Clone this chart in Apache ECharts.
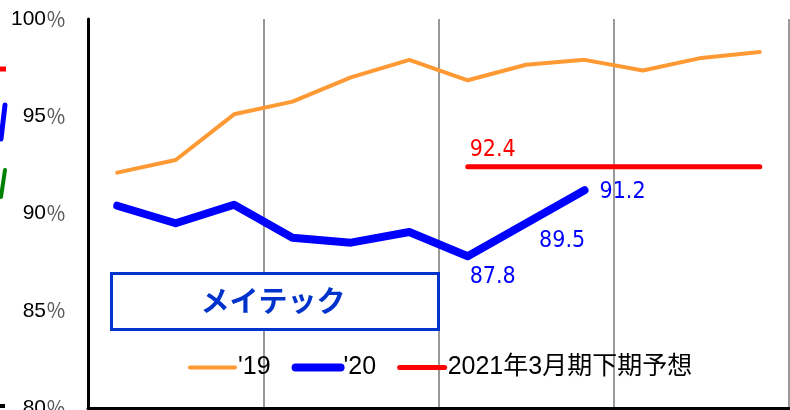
<!DOCTYPE html>
<html>
<head>
<meta charset="utf-8">
<script src="https://cdn.jsdelivr.net/npm/echarts@6/dist/echarts.min.js"></script>
<style>html,body{margin:0;padding:0;background:#fff;overflow:hidden}#c{width:790px;height:410px}</style>
</head>
<body>
<div id="c"></div>
<script>
const categories = ['4月','5月','6月','7月','8月','9月','10月','11月','12月','1月','2月','3月'];
const yTicks = [80, 85, 90, 95, 100];
const seriesNames = ["'19", "'20", '2021年3月期下期予想'];
const values19 = [92.1, 92.75, 95.1, 95.75, 97.0, 97.9, 96.85, 97.65, 97.9, 97.35, 98.0, 98.3];
const values20 = [90.4, 89.5, 90.45, 88.75, 88.5, 89.05, 87.8, 89.5, 91.2];
const valuesForecast = [null, null, null, null, null, null, 92.4, 92.4, 92.4, 92.4, 92.4, 92.4];
const labeled20 = {6: [25, 21], 7: [36, 18], 8: [38, 2]};
const labeledForecast = {6: [25, -17]};
const boxTitle = 'メイテック';

const NUM_FONT = "'Liberation Sans Narrow','DejaVu Sans Condensed','Noto Sans CJK JP',sans-serif";
const LEG_FONT = "'Liberation Sans','Noto Sans CJK JP',sans-serif";

function withLabels(vals, map, color) {
  return vals.map((v, i) => {
    if (map[i] === undefined || v === null) return v;
    return {
      value: v,
      symbol: 'circle',
      symbolSize: 2,
      label: {
        show: true, position: 'inside', offset: map[i],
        formatter: String(v), color: color,
        fontFamily: NUM_FONT, fontSize: 23
      }
    };
  });
}

const chart = echarts.init(document.getElementById('c'), null, {renderer: 'canvas', width: 790, height: 410});
chart.setOption({
  animation: false,
  backgroundColor: '#ffffff',
  grid: {left: 88, right: 1, top: 19, bottom: 2, containLabel: false, outerBoundsMode: 'none'},
  xAxis: {
    type: 'category', data: categories, boundaryGap: true,
    axisLine: {show: true, lineStyle: {color: '#000', width: 3}},
    axisTick: {show: false}, axisLabel: {show: false},
    splitLine: {show: true, interval: 2, lineStyle: {color: '#999', width: 2}}
  },
  yAxis: {
    type: 'value', min: yTicks[0], max: yTicks[yTicks.length - 1], interval: 5,
    axisLine: {show: true, lineStyle: {color: '#000', width: 3}},
    axisTick: {show: false}, splitLine: {show: false},
    axisLabel: {
      margin: 22,
      formatter: v => '{a|' + v + '}{b|％}',
      rich: {
        a: {fontFamily: "'Liberation Sans',Arial,sans-serif", fontSize: 21, color: '#000'},
        b: {fontFamily: "'Noto Sans CJK JP',sans-serif", fontSize: 20, color: '#555'}
      }
    }
  },
  legend: {
    left: 188, top: 355, padding: 0,
    itemWidth: 45, itemHeight: 14, itemGap: 21,
    textStyle: {fontFamily: LEG_FONT, fontSize: 25, color: '#000', padding: [0, 0, 0, -2]},
    itemStyle: {opacity: 0, borderWidth: 0},
    data: [
      {name: seriesNames[0], lineStyle: {width: 4, color: '#FF9933', cap: 'round'}, itemStyle: {opacity: 0}},
      {name: seriesNames[1], lineStyle: {width: 8, color: '#0000FF', cap: 'round'}, itemStyle: {opacity: 0}},
      {name: seriesNames[2], lineStyle: {width: 5, color: '#FF0000', cap: 'round'}, itemStyle: {opacity: 0}}
    ]
  },
  series: [
    {
      name: seriesNames[0], type: 'line', data: values19, symbol: 'none',
      lineStyle: {color: '#FF9933', width: 4, cap: 'round', join: 'round'},
      itemStyle: {color: '#FF9933'}
    },
    {
      name: seriesNames[1], type: 'line', data: withLabels(values20, labeled20, '#0000FF'), symbol: 'none',
      lineStyle: {color: '#0000FF', width: 8, cap: 'round', join: 'round'},
      itemStyle: {color: '#0000FF'}
    },
    {
      name: seriesNames[2], type: 'line', data: withLabels(valuesForecast, labeledForecast, '#FF0000'), symbol: 'none',
      lineStyle: {color: '#FF0000', width: 5, cap: 'round'},
      itemStyle: {color: '#FF0000'}
    }
  ],
  graphic: [
    {type: 'rect', left: 110, top: 272, shape: {width: 327, height: 56},
     style: {fill: '#fff', stroke: '#0033CC', lineWidth: 3}, z: 10},
    {type: 'text', x: 273, y: 301, z: 11,
     style: {text: boxTitle, fill: '#0033CC', font: "bold 29px 'Noto Sans CJK JP'", align: 'center', verticalAlign: 'middle'}},
    {type: 'line', shape: {x1: 0, y1: 69, x2: 6, y2: 69}, style: {stroke: '#FF0000', lineWidth: 5}},
    {type: 'line', shape: {x1: 1, y1: 139, x2: 5, y2: 105}, style: {stroke: '#0000FF', lineWidth: 5, lineCap: 'round'}},
    {type: 'line', shape: {x1: 1, y1: 197, x2: 5, y2: 170}, style: {stroke: '#008000', lineWidth: 4, lineCap: 'round'}},
    {type: 'line', shape: {x1: 0, y1: 406, x2: 5, y2: 406}, style: {stroke: '#000', lineWidth: 4}}
  ]
});
</script>
</body>
</html>
